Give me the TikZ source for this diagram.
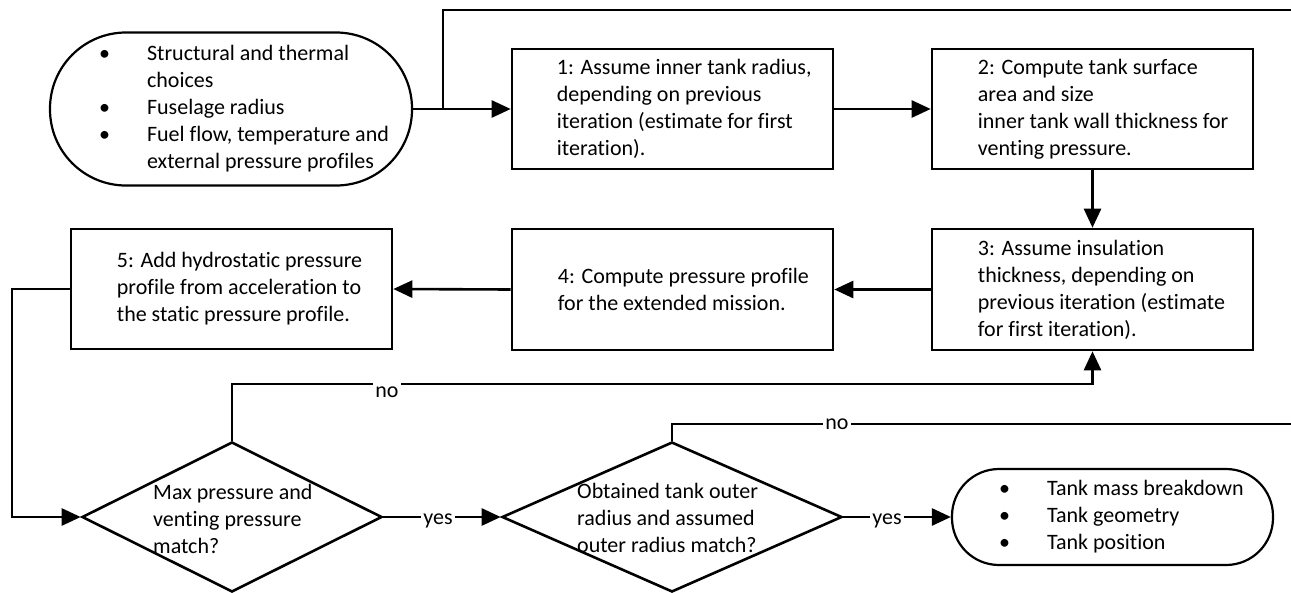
\documentclass[tikz,border=0pt]{standalone}
\usepackage{fontspec}
\setmainfont{Carlito}[Ligatures=NoCommon]
\usetikzlibrary{arrows.meta,shapes.geometric}
\begin{document}
\begin{tikzpicture}[x=1pt,y=-1pt,
  every node/.style={font=\fontsize{22}{27}\selectfont},
  conn/.style={line width=2.6pt},
  arr/.style={line width=2.6pt,-{Triangle[length=19pt,width=17pt]}},
  box/.style={draw,line width=2.6pt,minimum width=321pt,minimum height=120pt,inner sep=0pt},
  term/.style={draw,line width=2.2pt,inner sep=0pt},
  dec/.style={draw,diamond,line width=2.6pt,inner sep=0pt},
  txt/.style={anchor=west,align=left,inner sep=0pt},
  lbl/.style={fill=white,inner xsep=2pt,inner ysep=0pt}]
\useasboundingbox (0,0) rectangle (1291,592);
\clip (0,0) rectangle (1291,592);

% shapes
\node[term,rounded corners=76pt,minimum width=362pt,minimum height=153pt] (start) at (231,109) {};
\node[box] (b1) at (672.5,109) {};
\node[box] (b2) at (1092.5,109) {};
\node[box,minimum height=121pt] (b3) at (1092.5,289.5) {};
\node[box,minimum height=121pt] (b4) at (672.5,289.5) {};
\node[box] (b5) at (231.5,289) {};
\node[dec,minimum width=300pt,minimum height=150pt] (d1) at (232,517) {};
\node[dec,minimum width=340pt,minimum height=150pt] (d2) at (672,517) {};
\node[term,rounded corners=47pt,minimum width=321pt,minimum height=96pt] (end) at (1112.5,517) {};

% texts
\newcommand{\bul}{\makebox[48pt][l]{•}}
\node[txt] (startt) at ([xshift=50pt]start.west) {\bul Structural and thermal\\\hspace*{48pt}choices\\\bul Fuselage radius\\\bul Fuel flow, temperature and\\\hspace*{48pt}external pressure profiles};
\node[txt] (b1t) at ([xshift=46pt]b1.west) {1: Assume inner tank radius,\\depending on previous\\iteration (estimate for first\\iteration).};
\node[txt] (b2t) at ([xshift=47pt]b2.west) {2: Compute tank surface\\area and size\\inner tank wall thickness for\\venting pressure.};
\node[txt] (b3t) at ([xshift=47pt]b3.west) {3: Assume insulation\\thickness, depending on\\previous iteration (estimate\\for first iteration).};
\node[txt] (b4t) at ([xshift=47pt]b4.west) {4: Compute pressure profile\\for the extended mission.};
\node[txt] (b5t) at ([xshift=47pt]b5.west) {5: Add hydrostatic pressure\\profile from acceleration to\\the static pressure profile.};
\node[txt] (d1t) at (153,518.5) {Max pressure and\\venting pressure\\match?};
\node[txt] (d2t) at (577,518) {Obtained tank outer\\radius and assumed\\outer radius match?};
\node[txt] (endt) at ([xshift=48pt]end.west) {\bul Tank mass breakdown\\\bul Tank geometry\\\bul Tank position};

% connector coordinates
\coordinate (j) at (443,109);
\coordinate (k1) at (232,384);
\coordinate (k2) at (12,289);
\coordinate (k3) at (1300,424);
\coordinate (k4) at (1300,10);
\coordinate (k5) at (443,10);

% connectors
\draw[arr] (start.east) -- (b1.west);
\draw[arr] (b1.east) -- (b2.west);
\draw[arr] (b2.south) -- (b3.north);
\draw[arr] (b3.west) -- (b4.east);
\draw[arr] (b4.west) -- (b5.east);
\draw[arr] (b5.west) -- (k2) |- (d1.west);
\draw[arr] (d1.north) -- (k1) -| (b3.south);
\draw[arr] (d1.east) -- (d2.west);
\draw[arr] (d2.east) -- (end.west);
\draw[conn] (d2.north) |- (k3) -- (k4) -- (k5) -- (j);

% labels
\node[lbl] (no1) at (387,392.5) {\strut no};
\node[lbl] (no2) at (837,424.5) {\strut no};
\node[lbl] (yes1) at (438,519.5) {\strut yes};
\node[lbl] (yes2) at (887,519.5) {\strut yes};
\end{tikzpicture}
\end{document}
